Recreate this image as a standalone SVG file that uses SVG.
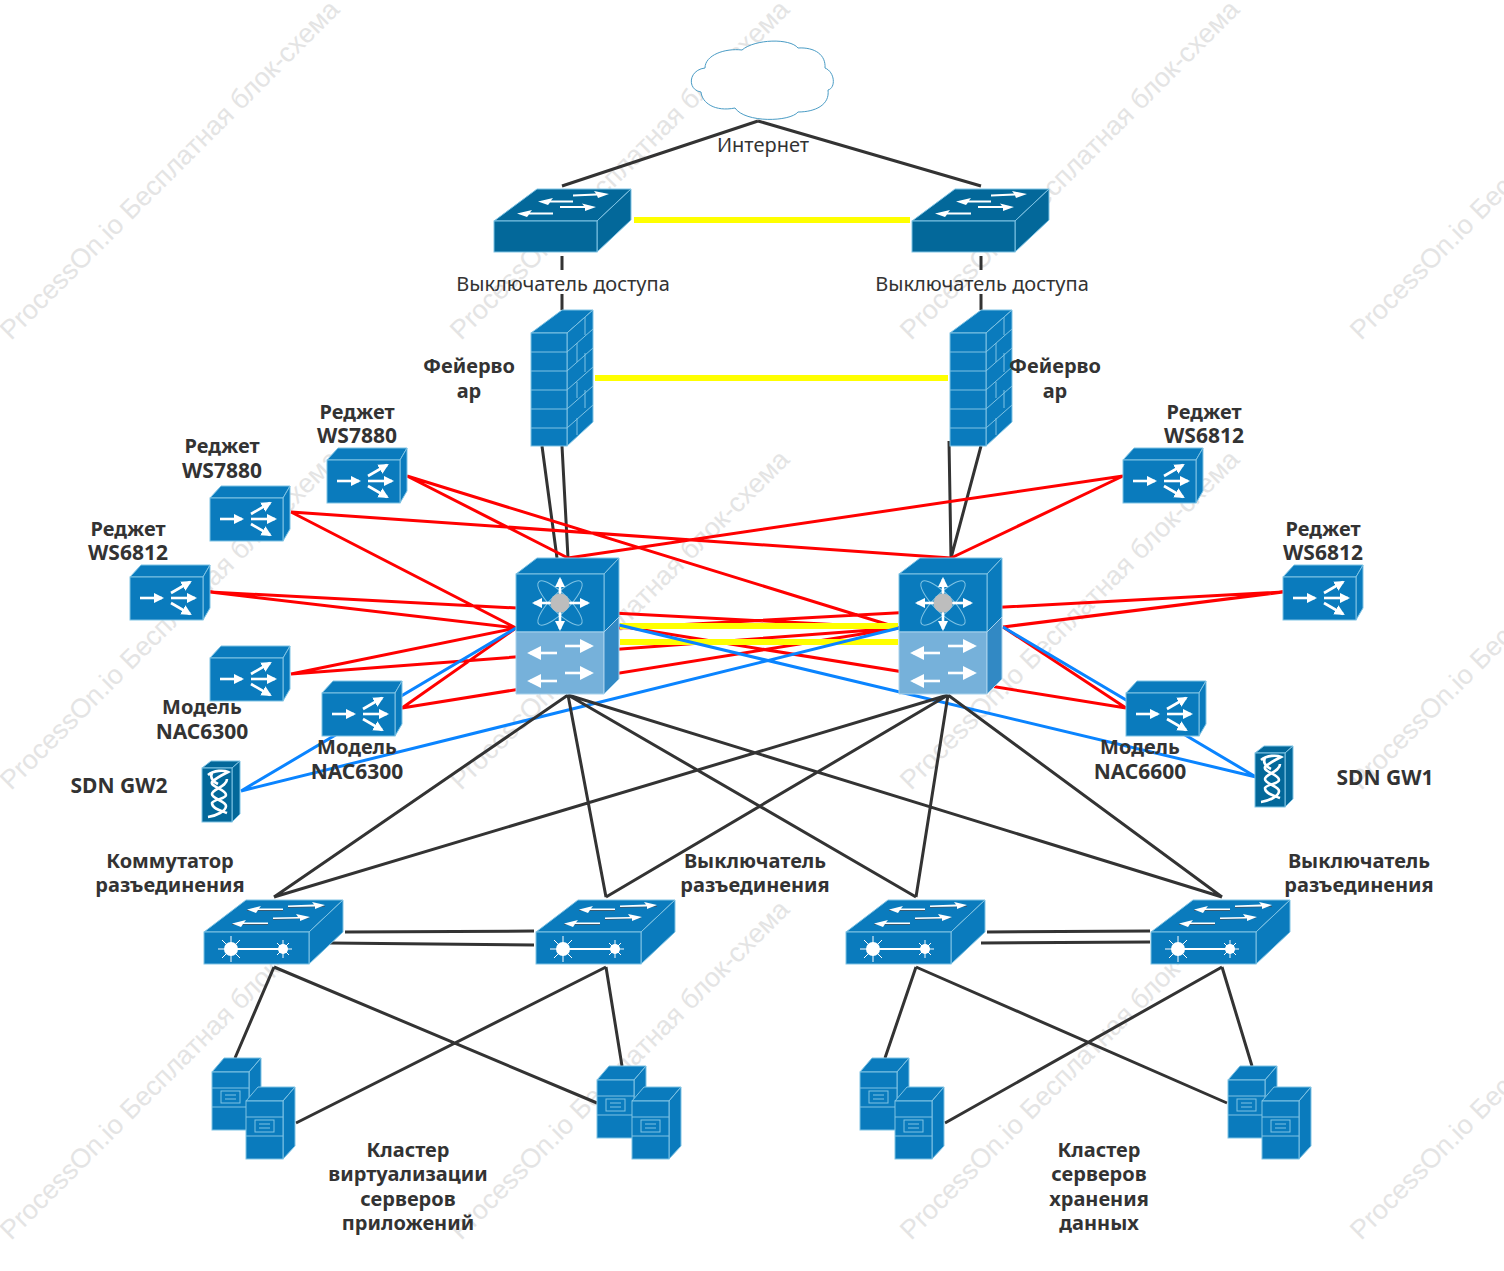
<svg xmlns="http://www.w3.org/2000/svg" width="1504" height="1271" viewBox="0 0 1504 1271">
<style>
text{font-family:"Noto Sans","Open Sans","Liberation Sans",sans-serif;font-size:20px;fill:#333;text-anchor:middle}
.b text{font-weight:700}
.b text.l{font-size:21px}
.wm text{font-family:"Liberation Sans",Arial,sans-serif;font-size:27px;fill:#e4e4e4;text-anchor:start}
.k{stroke:#333;stroke-width:3;fill:none}
.r{stroke:#f00;stroke-width:3;fill:none}
.y{stroke:#ff0;stroke-width:6;fill:none}
.u{stroke:#0a84ff;stroke-width:3;fill:none}
.m{fill:#0a7bbd;stroke:#7fc3e4;stroke-width:1}
.d{fill:#03689a;stroke:#7fc3e4;stroke-width:1}
.ln{stroke:#7fc3e4;stroke-width:1;fill:none}
.w{stroke:#fff;fill:none}
.wa{stroke:#fff;stroke-width:2.6;fill:none;marker-end:url(#h)}
.wb{stroke:#fff;stroke-width:2.6;fill:none;marker-end:url(#hb)}
.wt{fill:#fff}
.sh{stroke:#3a5a70;stroke-width:1;fill:none}
</style>
<defs>
<marker id="h" viewBox="0 0 10 10" refX="8" refY="5" markerWidth="4" markerHeight="4" orient="auto"><path d="M0 0L10 5L0 10Z" fill="#fff"/></marker>
<marker id="hb" viewBox="0 0 10 10" refX="8" refY="5" markerWidth="5.500" markerHeight="5.500" orient="auto"><path d="M0 0L10 5L0 10Z" fill="#fff"/></marker>
<g id="arrows-access">
<path class="wt" d="M79 5.500L102 4.500L100 2L115 5L104 9L103 6.500L79 7.500Z"/>
<path class="wt" d="M79 11.500H57L59 9L44 12.500L54 16L56 13.500H79Z"/>
<path class="wt" d="M66 17H90L88 14.500L102 18L91 22L91 19H66Z"/>
<path class="wt" d="M59 23.500H36L38 21L23 24.500L33 28L35 25.500H59Z"/>
</g>
<g id="access">
<path class="d" d="M0 32L43 0H137L103 32Z"/><path class="d" d="M103 32L137 0V31L103 63Z"/><rect class="d" x="0" y="32" width="103" height="31"/>
<use href="#arrows-access"/>
</g>
<g id="fw">
<path class="m" d="M0 23L31 0H62L36 23Z"/><path class="m" d="M36 23L62 0V112L36 136Z"/><rect class="m" x="0" y="23" width="36" height="113"/>
<path class="ln" d="M0 42H36M0 61H36M0 80H36M0 99H36M0 118H36M36 42L62 19M36 61L62 38M36 80L62 57M36 99L62 76M36 118L62 95M54 7V25M46 33V52M54 43V62M46 72V88M54 80V98M46 108V125"/>
</g>
<g id="core">
<path class="m" d="M0 16L21 0H103L88 16Z"/><path class="m" d="M88 16L103 0V59L88 74Z"/><rect class="m" x="0" y="16" width="88" height="58"/>
<path fill="#76b1da" stroke="#a8d2ec" d="M0 74H88V136H0Z"/><path fill="#3289c4" stroke="#a8d2ec" d="M88 74L103 59V121L88 136Z"/>
<ellipse class="ln" cx="44" cy="45" rx="9" ry="30" transform="rotate(45 44 45)"/><ellipse class="ln" cx="44" cy="45" rx="9" ry="30" transform="rotate(-45 44 45)"/>
<path class="wa" d="M44 45V21"/><path class="wa" d="M44 45V71"/><path class="wa" d="M44 45H18"/><path class="wa" d="M44 45H72"/>
<circle cx="44" cy="45" r="9.500" fill="#bdbdbd"/>
<path class="wb" d="M41 95H14"/><path class="wb" d="M49 88H75"/><path class="wb" d="M41 123H14"/><path class="wb" d="M49 115H75"/>
</g>
<g id="router">
<path class="m" d="M0 12L11 0H80L73 12Z"/><path class="m" d="M73 12L80 0V43L73 55Z"/><rect class="m" x="0" y="12" width="73" height="43"/>
<path class="wa" d="M10 33H32"/><path class="wa" d="M41 33H65"/><path class="wa" d="M41 28L60 17"/><path class="wa" d="M41 38L60 49"/>
</g>
<g id="gw">
<path class="d" d="M0 7L9 0H38L30 7Z"/><path class="d" d="M30 7L38 0V53L30 61Z"/><rect class="d" x="0" y="7" width="30" height="54"/>
<path class="w" stroke-width="2.600" d="M6 14C12 9 22 9 26 11C20 14 14 17 10 21C8 26 24 28 24 34C24 38 12 38 10 42C10 48 20 50 25 52"/>
<path class="w" stroke-width="2.600" d="M25 18C25 26 10 28 10 33C10 38 24 40 24 45C24 50 14 55 6 56"/>
<path class="w" stroke-width="2.600" d="M10 12C8 16 10 20 16 23"/>
</g>
<g id="dist">
<path class="m" d="M0 32L42 0H139L105 32Z"/><path class="m" d="M105 32L139 0V32L105 64Z"/><rect class="m" x="0" y="32" width="105" height="32"/>
<path class="sh" d="M43 10.500H79M28 24.500H64M69 19.500L105 18M84 7.500L121 6.500"/>
<path class="wt" d="M84 5.500L110 4.500L108 2L121 5L111 9L111 6.500L84 7Z"/>
<path class="wt" d="M79 8.500H55L57 6L43 9.500L52 13L54 10H79Z"/>
<path class="wt" d="M69 17.500L94 17L92 14L106 17L96 21L96 18.500L69 19Z"/>
<path class="wt" d="M64 22.500H40L42 20L28 23.500L37 27L39 24H64Z"/>
<path class="w" stroke-width="2" d="M27 49H79"/><circle class="wt" cx="27" cy="49" r="7"/><circle class="wt" cx="79" cy="49" r="5"/>
<path class="w" stroke-width="1" d="M14 49H40M27 36V62M18 40L36 58M36 40L18 58M70 49H88M79 40V58M73 43L85 55M85 43L73 55"/>
</g>
<g id="server">
<path class="m" d="M0 14L12 0H49L37 14Z"/><path class="m" d="M37 14L49 0V59L37 72Z"/><rect class="m" x="0" y="14" width="37" height="58"/>
<path class="ln" d="M0 30H37M0 49H37"/><rect class="ln" x="9" y="33" width="19" height="12"/><path class="ln" d="M13 37H24M13 41H24"/>
</g>
</defs>
<rect width="1504" height="1271" fill="#fff"/>
<g class="wm">
<text transform="translate(11 341) rotate(-45)">ProcessOn.io Бесплатная блок-схема</text>
<text transform="translate(461 341) rotate(-45)">ProcessOn.io Бесплатная блок-схема</text>
<text transform="translate(911 341) rotate(-45)">ProcessOn.io Бесплатная блок-схема</text>
<text transform="translate(1361 341) rotate(-45)">ProcessOn.io Бесплатная блок-схема</text>
<text transform="translate(11 791) rotate(-45)">ProcessOn.io Бесплатная блок-схема</text>
<text transform="translate(461 791) rotate(-45)">ProcessOn.io Бесплатная блок-схема</text>
<text transform="translate(911 791) rotate(-45)">ProcessOn.io Бесплатная блок-схема</text>
<text transform="translate(1361 791) rotate(-45)">ProcessOn.io Бесплатная блок-схема</text>
<text transform="translate(11 1241) rotate(-45)">ProcessOn.io Бесплатная блок-схема</text>
<text transform="translate(461 1241) rotate(-45)">ProcessOn.io Бесплатная блок-схема</text>
<text transform="translate(911 1241) rotate(-45)">ProcessOn.io Бесплатная блок-схема</text>
<text transform="translate(1361 1241) rotate(-45)">ProcessOn.io Бесплатная блок-схема</text>
</g>
<g id="connectors">
<path class="k" d="M758 121L562 186M758 121L981 186M562 256V270M562 294V310M981 256V270M981 294V310M542 446L557 558M562 446L568 558M949 441L951 558M981 446L951 558"/>
<path class="r" d="M407 476L568 558M407 476L899 628M291 512L951 558M291 512L516 628M1123 476L568 558M1123 476L951 558M210 592L516 628M210 592L899 628M291 674L516 628M291 674L899 628M402 708L516 628M402 708L899 628M1283 592L1003 627M1283 592L619 628M1126 708L1003 627M1126 708L619 626"/>
<path class="y" d="M634 220H910M595 378H948M620 626H898M620 642H898"/>
<path class="u" d="M241 791L516 628M241 791L899 628M1256 777L1003 627M1256 777L619 625"/>
<path class="k" d="M568 695L274 897M568 695L606 897M568 695L916 897M568 695L1222 897M948 695L274 897M948 695L606 897M948 695L916 897M948 695L1222 897M345 932L534 931M330 943L534 945M987 932L1150 931M981 943L1150 942M274 967L235 1058M274 967L597 1103M606 967L296 1123M606 967L622 1066M916 967L885 1058M916 967L1227 1103M1222 967L945 1123M1222 967L1252 1066"/>
</g>
<g id="internet"><path fill="#fff" stroke="#4a9cc5" d="M742 50C755 39 790 38 798 48C815 47 826 55 825 68C835 72 836 88 828 90C830 105 815 112 798 112C790 122 745 123 735 108C715 112 702 103 701 92C687 90 688 70 705 68C705 55 725 48 742 50Z"/></g>
<g id="access1"><use href="#access" x="494" y="189"/></g>
<g id="access2"><use href="#access" x="912" y="189"/></g>
<g id="fw1"><use href="#fw" x="531" y="310"/></g>
<g id="fw2"><use href="#fw" x="950" y="310"/></g>
<g id="core1"><use href="#core" x="516" y="558"/></g>
<g id="core2"><use href="#core" x="899" y="558"/></g>
<g id="r1"><use href="#router" x="327" y="448"/></g>
<g id="r2"><use href="#router" x="210" y="486"/></g>
<g id="r3"><use href="#router" x="130" y="565"/></g>
<g id="r4"><use href="#router" x="210" y="646"/></g>
<g id="r5"><use href="#router" x="322" y="681"/></g>
<g id="r6"><use href="#router" x="1123" y="448"/></g>
<g id="r7"><use href="#router" x="1283" y="565"/></g>
<g id="r8"><use href="#router" x="1126" y="681"/></g>
<g id="gw2"><use href="#gw" x="202" y="761"/></g>
<g id="gw1"><use href="#gw" x="1255" y="746"/></g>
<g id="d1"><use href="#dist" x="204" y="900"/></g>
<g id="d2"><use href="#dist" x="536" y="900"/></g>
<g id="d3"><use href="#dist" x="846" y="900"/></g>
<g id="d4"><use href="#dist" x="1151" y="900"/></g>
<g id="s1"><use href="#server" x="212" y="1058"/><use href="#server" x="246" y="1087"/></g>
<g id="s2"><use href="#server" x="597" y="1066"/><use href="#server" x="632" y="1087"/></g>
<g id="s3"><use href="#server" x="860" y="1058"/><use href="#server" x="895" y="1087"/></g>
<g id="s4"><use href="#server" x="1228" y="1066"/><use href="#server" x="1262" y="1087"/></g>
<g id="labels">
<text x="763" y="152">Интернет</text>
<text x="563" y="291">Выключатель доступа</text>
<text x="982" y="291">Выключатель доступа</text>
<g class="b">
<text x="469" y="373">Фейерво</text><text x="469" y="398">ар</text>
<text x="1055" y="373">Фейерво</text><text x="1055" y="398">ар</text>
<text x="357" y="419">Реджет</text><text class="l" x="357" y="443">WS7880</text>
<text x="222" y="453">Реджет</text><text class="l" x="222" y="478">WS7880</text>
<text x="128" y="536">Реджет</text><text class="l" x="128" y="560">WS6812</text>
<text x="1204" y="419">Реджет</text><text class="l" x="1204" y="443">WS6812</text>
<text x="1323" y="536">Реджет</text><text class="l" x="1323" y="560">WS6812</text>
<text x="202" y="714">Модель</text><text class="l" x="202" y="739">NAC6300</text>
<text x="357" y="754">Модель</text><text class="l" x="357" y="779">NAC6300</text>
<text x="1140" y="754">Модель</text><text class="l" x="1140" y="779">NAC6600</text>
<text class="l" x="119" y="793">SDN GW2</text>
<text class="l" x="1385" y="785">SDN GW1</text>
<text x="170" y="868">Коммутатор</text><text x="170" y="892">разъединения</text>
<text x="755" y="868">Выключатель</text><text x="755" y="892">разъединения</text>
<text x="1359" y="868">Выключатель</text><text x="1359" y="892">разъединения</text>
<text x="408" y="1157">Кластер</text><text x="408" y="1181">виртуализации</text><text x="408" y="1206">серверов</text><text x="408" y="1230">приложений</text>
<text x="1099" y="1157">Кластер</text><text x="1099" y="1181">серверов</text><text x="1099" y="1206">хранения</text><text x="1099" y="1230">данных</text>
</g>
</g>
</svg>
